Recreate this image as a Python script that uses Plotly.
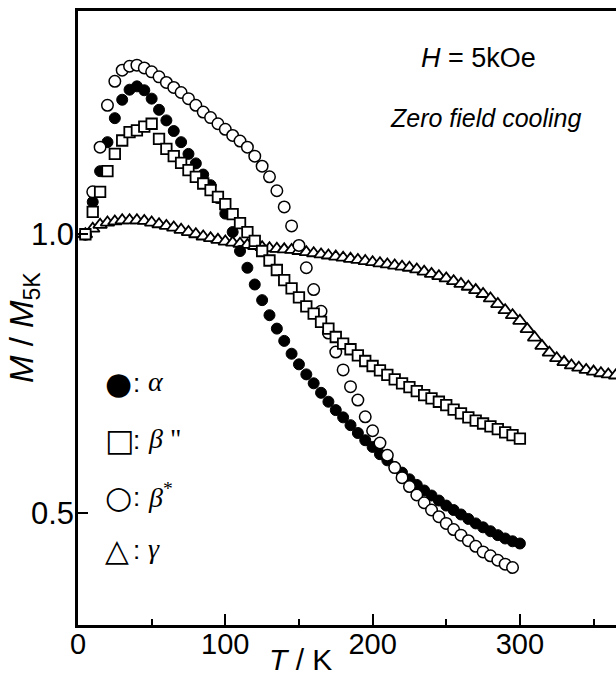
import plotly.graph_objects as go

# ---- data ----
T_alpha = [5, 10, 15, 20, 25, 30, 35, 40, 45, 50, 55, 60, 65, 70, 75, 80, 85, 90, 95, 100,
           105, 110, 115, 120, 125, 130, 135, 140, 145, 150, 155, 160, 165, 170, 175, 180,
           185, 190, 195, 200, 205, 210, 215, 220, 225, 230, 235, 240, 245, 250, 255, 260,
           265, 270, 275, 280, 285, 290, 295, 300]
M_alpha = [1.000, 1.058, 1.113, 1.165, 1.208, 1.241, 1.259, 1.265, 1.258, 1.243, 1.223, 1.204,
           1.185, 1.165, 1.144, 1.127, 1.107, 1.088, 1.065, 1.037, 1.004, 0.970, 0.940, 0.910,
           0.882, 0.855, 0.831, 0.809, 0.786, 0.767, 0.749, 0.733, 0.716, 0.700, 0.685, 0.672,
           0.658, 0.644, 0.631, 0.619, 0.606, 0.595, 0.583, 0.573, 0.561, 0.551, 0.541, 0.532,
           0.523, 0.514, 0.506, 0.498, 0.490, 0.482, 0.475, 0.468, 0.461, 0.455, 0.450, 0.446]

T_beta2 = [5, 10, 15, 20, 25, 30, 35, 40, 45, 50, 55, 60, 65, 70, 75, 80, 85, 90, 95, 100,
           105, 110, 115, 120, 125, 130, 135, 140, 145, 150, 155, 160, 165, 170, 175, 180,
           185, 190, 195, 200, 205, 210, 215, 220, 225, 230, 235, 240, 245, 250, 255, 260,
           265, 270, 275, 280, 285, 290, 295, 300]
M_beta2 = [1.000, 1.040, 1.076, 1.113, 1.144, 1.168, 1.183, 1.186, 1.193, 1.198, 1.171, 1.153,
           1.140, 1.128, 1.115, 1.103, 1.091, 1.079, 1.067, 1.054, 1.036, 1.020, 1.004, 0.988,
           0.970, 0.953, 0.936, 0.918, 0.903, 0.887, 0.871, 0.858, 0.843, 0.831, 0.816, 0.804,
           0.794, 0.783, 0.773, 0.764, 0.756, 0.748, 0.740, 0.733, 0.726, 0.719, 0.712, 0.706,
           0.700, 0.694, 0.686, 0.679, 0.672, 0.666, 0.661, 0.656, 0.651, 0.645, 0.640, 0.634]

T_betas = [5, 10, 15, 20, 25, 30, 35, 40, 45, 50, 55, 60, 65, 70, 75, 80, 85, 90, 95, 100,
           105, 110, 115, 120, 125, 130, 135, 140, 145, 150, 155, 160, 165, 170, 175, 180,
           185, 190, 195, 200, 205, 210, 215, 220, 225, 230, 235, 240, 245, 250, 255, 260,
           265, 270, 275, 280, 285, 290, 295]
M_betas = [1.000, 1.076, 1.156, 1.231, 1.274, 1.294, 1.301, 1.303, 1.298, 1.291, 1.282, 1.272,
           1.263, 1.254, 1.243, 1.231, 1.219, 1.209, 1.198, 1.188, 1.177, 1.167, 1.156, 1.140,
           1.122, 1.103, 1.078, 1.049, 1.015, 0.980, 0.940, 0.901, 0.862, 0.823, 0.789, 0.757,
           0.727, 0.703, 0.673, 0.648, 0.626, 0.604, 0.582, 0.564, 0.548, 0.533, 0.519, 0.506,
           0.494, 0.482, 0.471, 0.461, 0.451, 0.441, 0.431, 0.424, 0.416, 0.409, 0.403]

T_gamma = [5, 10, 15, 20, 25, 30, 35, 40, 45, 50, 55, 60, 65, 70, 75, 80, 85, 90, 95, 100,
           105, 110, 115, 120, 125, 130, 135, 140, 145, 150, 155, 160, 165, 170, 175, 180,
           185, 190, 195, 200, 205, 210, 215, 220, 225, 230, 235, 240, 245, 250, 255, 260,
           265, 270, 275, 280, 285, 290, 295, 300, 305, 310, 315, 320, 325, 330, 335, 340,
           345, 350, 355, 360, 365]
M_gamma = [1.000, 1.010, 1.017, 1.021, 1.023, 1.025, 1.025, 1.025, 1.024, 1.021, 1.018, 1.015,
           1.012, 1.008, 1.004, 1.000, 0.996, 0.993, 0.990, 0.987, 0.985, 0.983, 0.981, 0.979,
           0.977, 0.975, 0.974, 0.973, 0.972, 0.970, 0.968, 0.966, 0.964, 0.962, 0.960, 0.958,
           0.956, 0.954, 0.952, 0.950, 0.948, 0.946, 0.944, 0.942, 0.940, 0.937, 0.933, 0.929,
           0.925, 0.921, 0.916, 0.911, 0.906, 0.900, 0.893, 0.885, 0.875, 0.864, 0.855, 0.845,
           0.830, 0.815, 0.800, 0.788, 0.778, 0.771, 0.765, 0.761, 0.757, 0.754, 0.751, 0.749,
           0.747]

x_ticks = [0, 100, 200, 300]
x_ticktext = ["0", "100", "200", "300"]
y_ticks = [0.5, 1.0]
y_ticktext = ["0.5", "1.0"]

legend_symbols = ["●", "□", "○", "△"]
legend_labels = ["<i>α</i>", '<i>β</i> "', "<i>β</i><sup>*</sup>", "<i>γ</i>"]

# ---- figure ----
W, H = 616, 680
ML, MR, MT, MB = 78, 0, 11, 55
PW, PH = W - ML - MR, H - MT - MB
SANS = "Liberation Sans, Arial, sans-serif"

fig = go.Figure()
fig.add_trace(go.Scatter(x=T_gamma, y=M_gamma, mode="markers", name="γ",
                         marker=dict(symbol="triangle-up", size=12, color="white",
                                     line=dict(color="black", width=1.8))))
fig.add_trace(go.Scatter(x=T_alpha, y=M_alpha, mode="markers", name="α",
                         marker=dict(symbol="circle", size=11, color="black",
                                     line=dict(color="black", width=1))))
fig.add_trace(go.Scatter(x=T_betas, y=M_betas, mode="markers", name="β*",
                         marker=dict(symbol="circle", size=11.5, color="white",
                                     line=dict(color="black", width=1.5))))
fig.add_trace(go.Scatter(x=T_beta2, y=M_beta2, mode="markers", name='β"',
                         marker=dict(symbol="square", size=10.5, color="white",
                                     line=dict(color="black", width=1.8))))

fig.update_xaxes(range=[0, PW / 1.473], tickvals=x_ticks, ticktext=x_ticktext,
                 ticks="inside", ticklen=11, tickwidth=2, tickcolor="black",
                 ticklabelstandoff=-9,
                 minor=dict(dtick=50, tick0=0, ticks="inside", ticklen=6, tickwidth=2,
                            tickcolor="black"),
                 showline=True, linewidth=2.5, linecolor="black", mirror=True,
                 showgrid=False, zeroline=False,
                 tickfont=dict(family=SANS, size=29, color="black"))
fig.update_yaxes(range=[0.3, 1.4], tickvals=y_ticks, ticktext=y_ticktext,
                 ticks="inside", ticklen=10, tickwidth=2, tickcolor="black",
                 ticklabelstandoff=-5,
                 showline=True, linewidth=2.5, linecolor="black", mirror=False,
                 showgrid=False, zeroline=False,
                 tickfont=dict(family=SANS, size=31, color="black"))


def px_x(p):
    return (p - ML) / PW


def px_y(p):
    return (H - MB - p) / PH


annotations = [
    dict(x=px_x(300), y=px_y(659), xref="paper", yref="paper", showarrow=False,
         xanchor="center", yanchor="middle",
         text="<i>T</i> / K", font=dict(family=SANS, size=30, color="black")),
    dict(x=px_x(24), y=px_y(328), xref="paper", yref="paper", showarrow=False,
         xanchor="center", yanchor="middle", textangle=-90,
         text="<i>M</i> / <i>M</i><sub>5K</sub>", font=dict(family=SANS, size=33, color="black")),
    dict(x=px_x(419), y=px_y(58), xref="paper", yref="paper", showarrow=False,
         xanchor="left", yanchor="middle",
         text="<i>H</i> = 5kOe", font=dict(family=SANS, size=27, color="black")),
    dict(x=px_x(388), y=px_y(118), xref="paper", yref="paper", showarrow=False,
         xanchor="left", yanchor="middle",
         text="<i>Zero field cooling</i>", font=dict(family=SANS, size=25, color="black")),
]
row_y = [383, 440, 497, 550]
for sym, lab, py in zip(legend_symbols, legend_labels, row_y):
    annotations.append(dict(
        x=px_x(103), y=px_y(py), xref="paper", yref="paper", xanchor="left",
        yanchor="middle", showarrow=False, text=sym,
        font=dict(family="DejaVu Sans", size=31, color="black")))
    annotations.append(dict(
        x=px_x(131), y=px_y(py), xref="paper", yref="paper", xanchor="left",
        yanchor="middle", showarrow=False, text=":",
        font=dict(family=SANS, size=26, color="black")))
    annotations.append(dict(
        x=px_x(146), y=px_y(py - 2), xref="paper", yref="paper", xanchor="left",
        yanchor="middle", showarrow=False, text=lab,
        font=dict(family="Liberation Serif, serif", size=28, color="black")))

fig.update_layout(width=W, height=H, margin=dict(l=ML, r=MR, t=MT, b=MB, autoexpand=False),
                  paper_bgcolor="white", plot_bgcolor="white", showlegend=False,
                  annotations=annotations)

fig.write_html("out.html")
